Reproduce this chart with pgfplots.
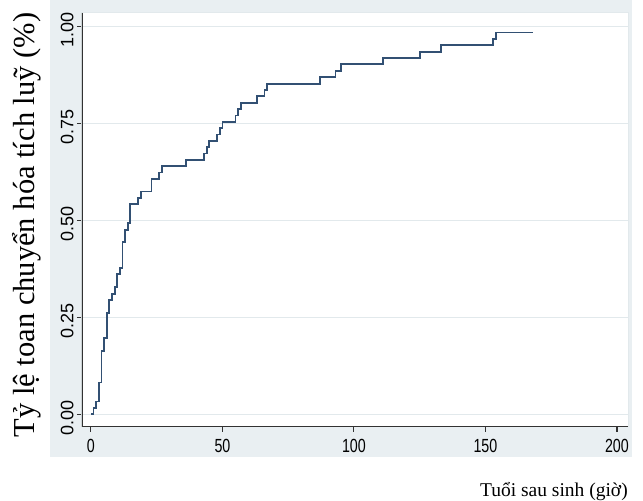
\documentclass[border=0pt]{standalone}
\usepackage{fontspec}
\setmainfont{Liberation Serif}
\newfontfamily\tickx[FakeStretch=0.75]{Liberation Sans}
\newfontfamily\ticky{Liberation Sans}
\usepackage{pgfplots}
\pgfplotsset{compat=1.18}
\definecolor{bgcol}{RGB}{233,239,242}
\definecolor{gridcol}{RGB}{226,233,236}
\definecolor{linecol}{RGB}{50,80,115}
\definecolor{axcol}{RGB}{50,50,50}
\begin{document}
\begin{tikzpicture}
\path[use as bounding box] (0,0) rectangle (643pt,501pt);
\fill[white] (0,0) rectangle (643pt,501pt);
\fill[bgcol] (50pt,44pt) rectangle (632pt,501pt);
\begin{axis}[
  at={(82pt,74pt)}, anchor=south west,
  scale only axis, width=546pt, height=414pt,
  xmin=-3.4, xmax=204.2, ymin=-0.0327, ymax=1.034,
  axis background/.style={fill=white},
  axis line style={gridcol, line width=1pt},
  xtick={0,50,100,150,200},
  ytick={0,0.25,0.5,0.75,1},
  xtick pos=left, ytick pos=left,
  tick align=outside, major tick length=5pt,
  tick style={axcol, line width=1.1pt},
  ymajorgrids, grid style={gridcol, line width=1pt},
  /pgf/number format/assume math mode=true,
  xticklabel style={font=\tickx\fontsize{19}{21}\selectfont, yshift=-4pt},
  yticklabel style={font=\ticky\fontsize{18}{20}\selectfont, rotate=90, anchor=south, xshift=-4pt,
    /pgf/number format/.cd, fixed, fixed zerofill, precision=2},
  xlabel={Tuổi sau sinh (giờ)},
  every axis x label/.style={at={(rel axis cs:1,0)}, anchor=base east, yshift=-69pt, inner sep=0pt,
    font=\fontsize{19.5}{22}\selectfont},
  ylabel={Tỷ lệ toan chuyển hóa tích luỹ (\%)},
  every axis y label/.style={at={(rel axis cs:0,0.5)}, rotate=90, anchor=center, yshift=55pt, xshift=-5pt,
    inner sep=0pt, font=\fontsize{30.5}{32}\selectfont},
]
\addplot[const plot, linecol, line width=1.8pt] table[row sep=\\] {
x y\\
0 0\\
1 0.016\\
2 0.033\\
3 0.082\\
4 0.164\\
5 0.197\\
6 0.262\\
7 0.295\\
8 0.311\\
9 0.328\\
10 0.361\\
11 0.377\\
12 0.443\\
13 0.475\\
14 0.492\\
15 0.541\\
18 0.557\\
19 0.574\\
23 0.607\\
26 0.623\\
27 0.639\\
36 0.656\\
43 0.672\\
44 0.689\\
45 0.705\\
48 0.721\\
49 0.738\\
50 0.754\\
55 0.770\\
56 0.787\\
57 0.803\\
63 0.820\\
66 0.836\\
67 0.852\\
87 0.869\\
93 0.885\\
95 0.902\\
111 0.918\\
125 0.934\\
133 0.951\\
153 0.967\\
154 0.984\\
168 0.984\\
};
\draw[axcol, line width=1.1pt] (rel axis cs:0,1) -- (rel axis cs:0,0) -- (rel axis cs:1,0);
\end{axis}
\end{tikzpicture}
\end{document}
